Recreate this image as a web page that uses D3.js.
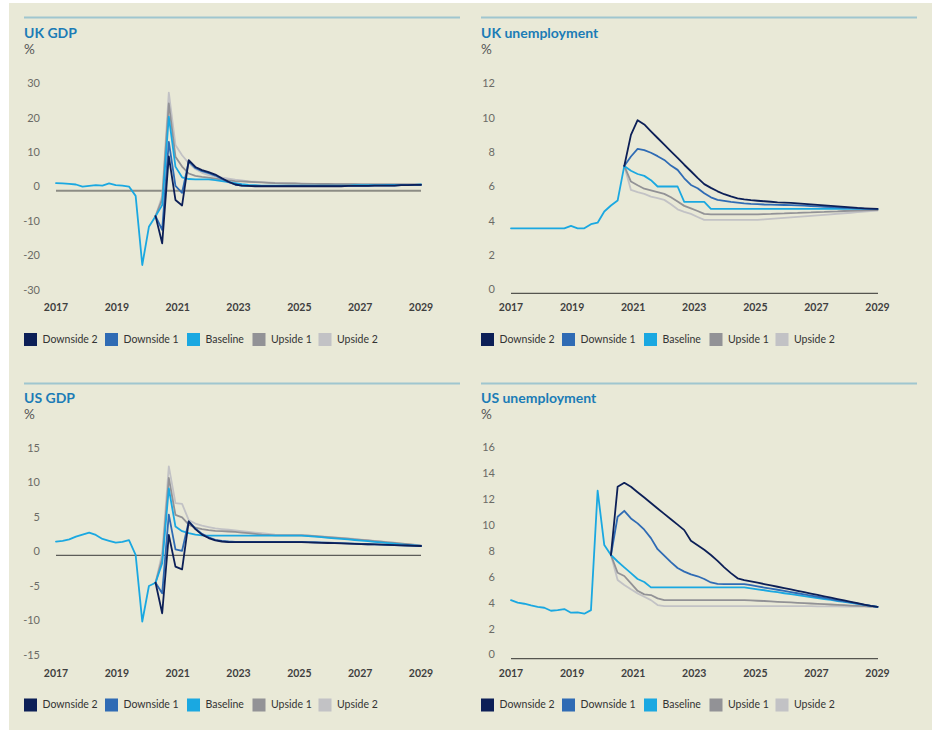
<!DOCTYPE html>
<html><head><meta charset="utf-8">
<script src="https://cdn.jsdelivr.net/npm/d3@7"></script>
<style>
body{margin:0;background:#ffffff;}
text{font-family:Lato,"Open Sans","Noto Sans",sans-serif;}
</style>
</head><body>
<svg id="chart" width="941" height="733"></svg>
<script>
// ---------------- DATA ----------------
const seriesNames  = ["Downside 2","Downside 1","Baseline","Upside 1","Upside 2"];
const seriesColors = ["#0c1f57","#2f6bb4","#1aa8e1","#929296","#c2c2c5"];
const yearTicks = [2017,2019,2021,2023,2025,2027,2029];
const pointCount = 56; // equally spaced points from 2017 to 2029

// UK GDP (%)
const ukGdpTicks = [30,20,10,0,-10,-20,-30];
const ukGdpBranch = 15;
const ukGdpBaseline = [2.2,2.1,2.0,1.8,1.2,1.4,1.6,1.5,2.1,1.6,1.5,1.2,-1.5,-21.6,-10.5,-7.4,-4.2,21.5,7.0,3.9,3.4,3.3,3.3,3.3,3.1,2.8,2.5,2.2,1.9,1.7,1.6,1.5,1.5,1.5,1.5,1.5,1.5,1.5,1.5,1.5,1.5,1.5,1.5,1.5,1.5,1.6,1.6,1.6,1.6,1.6,1.7,1.7,1.7,1.7,1.7,1.8];
const ukGdpDownside2 = [-7.4,-15.3,10.0,-2.7,-4.3,8.9,6.9,6.0,5.4,4.7,3.6,2.6,1.8,1.5,1.4,1.3,1.3,1.3,1.3,1.3,1.3,1.3,1.3,1.3,1.3,1.3,1.3,1.3,1.3,1.4,1.4,1.4,1.4,1.5,1.5,1.5,1.5,1.6,1.6,1.7,1.7];
const ukGdpDownside1 = [-7.4,-11.4,14.2,1.4,-0.6,8.5,6.6,5.7,5.1,4.4,3.4,2.5,1.8,1.5,1.4,1.35,1.35,1.35,1.35,1.35,1.35,1.35,1.35,1.35,1.35,1.35,1.35,1.35,1.35,1.4,1.4,1.4,1.4,1.5,1.5,1.5,1.5,1.6,1.6,1.7,1.7];
const ukGdpUpside1 = [-7.4,-2.5,25.4,9.9,7.0,5.0,4.3,4.0,3.8,3.5,3.2,3.0,2.8,2.7,2.6,2.5,2.4,2.3,2.2,2.15,2.1,2.1,2.0,2.0,2.0,1.95,1.95,1.9,1.9,1.9,1.9,1.85,1.85,1.85,1.85,1.8,1.8,1.8,1.8,1.8,1.8];
const ukGdpUpside2 = [-7.4,-1.5,28.5,13.3,10.3,8.0,6.3,5.2,4.5,4.1,3.8,3.5,3.2,3.0,2.7,2.6,2.5,2.4,2.3,2.25,2.2,2.15,2.1,2.05,2.0,2.0,2.0,2.0,1.95,1.95,1.9,1.9,1.9,1.85,1.85,1.85,1.8,1.8,1.8,1.8,1.8];

// UK unemployment (%)
const ukUnTicks = [12,10,8,6,4,2,0];
const ukUnBranch = 17;
const ukUnBaseline = [3.79,3.79,3.79,3.79,3.79,3.79,3.79,3.79,3.79,3.93,3.79,3.79,4.03,4.12,4.77,5.12,5.41,7.43,7.15,6.96,6.85,6.6,6.23,6.23,6.23,6.23,5.33,5.33,5.33,5.33,4.92,4.92,4.92,4.92,4.92,4.92,4.92,4.92,4.92,4.92,4.92,4.92,4.92,4.92,4.92,4.92,4.92,4.92,4.92,4.92,4.92,4.92,4.92,4.92,4.92,4.92];
const ukUnDownside2 = [7.43,9.24,10.1,9.85,9.45,9.06,8.67,8.28,7.9,7.5,7.12,6.73,6.37,6.15,5.95,5.78,5.65,5.54,5.48,5.43,5.4,5.37,5.34,5.31,5.29,5.27,5.25,5.22,5.19,5.16,5.13,5.1,5.07,5.04,5.01,4.98,4.96,4.94,4.92];
const ukUnDownside1 = [7.43,7.98,8.42,8.35,8.2,8.0,7.78,7.45,7.2,6.71,6.32,6.13,5.84,5.6,5.45,5.39,5.33,5.29,5.25,5.22,5.2,5.18,5.17,5.16,5.15,5.14,5.13,5.11,5.09,5.07,5.05,5.03,5.01,4.99,4.97,4.96,4.94,4.93,4.92];
const ukUnUpside1 = [7.43,6.52,6.3,6.1,6.0,5.9,5.8,5.6,5.35,5.1,4.95,4.8,4.63,4.61,4.61,4.61,4.61,4.61,4.61,4.61,4.61,4.62,4.63,4.65,4.66,4.68,4.69,4.71,4.72,4.74,4.75,4.77,4.78,4.8,4.81,4.83,4.84,4.85,4.86];
const ukUnUpside2 = [7.43,6.03,5.9,5.8,5.64,5.55,5.45,5.2,4.9,4.75,4.63,4.45,4.28,4.28,4.28,4.28,4.28,4.28,4.28,4.28,4.28,4.31,4.34,4.37,4.4,4.43,4.46,4.49,4.52,4.55,4.58,4.61,4.64,4.67,4.7,4.73,4.76,4.79,4.82];

// US GDP (%)
const usGdpTicks = [15,10,5,0,-5,-10,-15];
const usGdpBranch = 15;
const usGdpBaseline = [1.98,2.1,2.3,2.7,3.0,3.3,2.95,2.37,2.1,1.84,1.94,2.2,0.05,-9.6,-4.45,-3.97,-1.16,9.7,4.16,3.5,3.2,3.0,2.9,2.85,2.85,2.85,2.85,2.85,2.85,2.85,2.85,2.85,2.85,2.85,2.85,2.85,2.85,2.85,2.78,2.7,2.62,2.54,2.46,2.38,2.3,2.22,2.13,2.04,1.95,1.86,1.77,1.68,1.59,1.5,1.42,1.35];
const usGdpDownside2 = [-3.97,-8.4,2.95,-1.64,-2.03,4.9,3.8,3.0,2.5,2.15,2.0,1.9,1.9,1.9,1.9,1.9,1.9,1.9,1.9,1.9,1.9,1.9,1.9,1.87,1.84,1.81,1.78,1.75,1.72,1.69,1.66,1.63,1.6,1.57,1.54,1.51,1.48,1.45,1.42,1.38,1.35];
const usGdpDownside1 = [-3.97,-5.5,5.9,0.87,0.65,4.9,3.9,3.1,2.6,2.25,2.1,2.0,1.95,1.95,1.95,1.95,1.95,1.95,1.95,1.95,1.95,1.95,1.95,1.92,1.89,1.86,1.83,1.8,1.76,1.72,1.68,1.64,1.6,1.57,1.54,1.51,1.48,1.45,1.42,1.39,1.36];
const usGdpUpside1 = [-3.97,-0.5,11.2,5.85,5.5,4.45,4.0,3.8,3.65,3.55,3.5,3.45,3.4,3.3,3.2,3.1,3.0,2.95,2.9,2.9,2.9,2.9,2.9,2.84,2.77,2.7,2.63,2.56,2.48,2.4,2.32,2.24,2.15,2.06,1.97,1.88,1.79,1.7,1.6,1.5,1.4];
const usGdpUpside2 = [-3.97,0.3,12.9,7.55,7.45,5.1,4.6,4.3,4.1,3.9,3.8,3.7,3.6,3.5,3.4,3.3,3.2,3.1,3.0,2.95,2.95,2.95,2.95,2.88,2.81,2.74,2.67,2.6,2.52,2.44,2.36,2.28,2.19,2.1,2.01,1.92,1.83,1.73,1.63,1.53,1.42];

// US unemployment (%)
const usUnTicks = [16,14,12,10,8,6,4,2,0];
const usUnBranch = 15;
const usUnBaseline = [4.52,4.32,4.24,4.11,4.0,3.93,3.7,3.75,3.83,3.55,3.57,3.47,3.75,12.96,8.77,8.0,7.5,7.05,6.6,6.15,5.92,5.5,5.5,5.5,5.5,5.5,5.5,5.5,5.5,5.5,5.5,5.5,5.5,5.5,5.5,5.5,5.43,5.35,5.28,5.2,5.13,5.05,4.98,4.9,4.83,4.75,4.68,4.6,4.53,4.45,4.38,4.3,4.23,4.15,4.08,4.0];
const usUnDownside2 = [8.0,13.26,13.57,13.26,12.84,12.43,12.01,11.59,11.17,10.76,10.34,9.92,9.1,8.75,8.4,8.0,7.55,7.05,6.6,6.2,6.07,5.97,5.86,5.76,5.65,5.55,5.44,5.34,5.23,5.13,5.02,4.92,4.81,4.71,4.6,4.5,4.39,4.29,4.18,4.08,4.0];
const usUnDownside1 = [8.0,10.95,11.41,10.82,10.44,9.95,9.3,8.45,7.95,7.45,7.0,6.72,6.5,6.36,6.15,5.88,5.77,5.76,5.76,5.76,5.76,5.67,5.58,5.49,5.4,5.32,5.23,5.14,5.05,4.96,4.87,4.78,4.69,4.6,4.51,4.42,4.34,4.25,4.16,4.08,4.0];
const usUnUpside1 = [8.0,6.63,6.38,5.81,5.24,4.96,4.91,4.65,4.52,4.52,4.52,4.52,4.52,4.52,4.52,4.52,4.52,4.52,4.52,4.52,4.52,4.5,4.47,4.45,4.42,4.39,4.37,4.34,4.31,4.29,4.26,4.23,4.21,4.18,4.15,4.13,4.1,4.07,4.05,4.02,4.0];
const usUnUpside2 = [8.0,6.07,5.68,5.35,5.04,4.78,4.52,4.14,4.06,4.06,4.06,4.06,4.06,4.06,4.06,4.06,4.06,4.06,4.06,4.06,4.06,4.06,4.06,4.06,4.06,4.06,4.06,4.06,4.06,4.05,4.05,4.04,4.04,4.03,4.03,4.02,4.02,4.01,4.01,4.0,4.0];

// ---------------- LAYOUT ----------------
const panels = [
  {title:"UK GDP", left:24, right:460, x0:56, x1:421, top:0, domain:[-30,30], yr:[293.9,87.5], ticks:ukGdpTicks, zeroStyle:"gdpUK",
   branch:ukGdpBranch, base:ukGdpBaseline, others:[ukGdpDownside2,ukGdpDownside1,null,ukGdpUpside1,ukGdpUpside2]},
  {title:"UK unemployment", left:481, right:917, x0:511, x1:877.5, top:0, domain:[0,12], yr:[293.3,87.6], ticks:ukUnTicks, zeroStyle:"axis",
   branch:ukUnBranch, base:ukUnBaseline, others:[ukUnDownside2,ukUnDownside1,null,ukUnUpside1,ukUnUpside2]},
  {title:"US GDP", left:24, right:460, x0:56, x1:421, top:1, domain:[-15,15], yr:[658.8,451.8], ticks:usGdpTicks, zeroStyle:"gdpUS",
   branch:usGdpBranch, base:usGdpBaseline, others:[usGdpDownside2,usGdpDownside1,null,usGdpUpside1,usGdpUpside2]},
  {title:"US unemployment", left:481, right:917, x0:511, x1:877.5, top:1, domain:[0,16], yr:[658.7,451.3], ticks:usUnTicks, zeroStyle:"axis",
   branch:usUnBranch, base:usUnBaseline, others:[usUnDownside2,usUnDownside1,null,usUnUpside1,usUnUpside2]}
];
const rows = [
  {rule:17.5, title:34, pct:51, xlab:308.5, legend:339.5},
  {rule:383.5, title:399.5, pct:416, xlab:674.5, legend:705}
];
const legendOffsets = [0, 81, 163, 228.5, 294.5];

const svg = d3.select("#chart");
svg.append("rect").attr("x",9).attr("y",3).attr("width",923).attr("height",727).attr("fill","#e9e9d7");

const drawOrder = [4,3,2,1,0];

panels.forEach(p => {
  const r = rows[p.top];
  const g = svg.append("g");
  const xi = d3.scaleLinear().domain([0, pointCount-1]).range([p.x0, p.x1]);
  const xy = d3.scaleLinear().domain([2017, 2029]).range([p.x0, p.x1]);
  const y = d3.scaleLinear().domain(p.domain).range(p.yr);

  g.append("line").attr("x1",p.left).attr("x2",p.right).attr("y1",r.rule).attr("y2",r.rule)
    .attr("stroke","#9fc6cf").attr("stroke-width",2);
  g.append("text").attr("x",p.left).attr("y",r.title).attr("dominant-baseline","middle")
    .attr("font-size",14).attr("font-weight",700).attr("fill","#1b7cb6").text(p.title);
  g.append("text").attr("x",p.left).attr("y",r.pct).attr("dominant-baseline","middle")
    .attr("font-size",13.5).attr("fill","#555").text("%");

  // y tick labels
  g.selectAll(".yt").data(p.ticks).enter().append("text")
    .attr("x", p.x0 - 16).attr("y", d => y(d) - 3).attr("text-anchor","end").attr("dominant-baseline","middle")
    .attr("font-size",11).attr("fill","#6b6b66").text(d => d);

  // x tick labels
  g.selectAll(".xt").data(yearTicks).enter().append("text")
    .attr("x", d => xy(d)).attr("y", r.xlab).attr("text-anchor","middle").attr("dominant-baseline","middle")
    .attr("font-size",10.5).attr("font-weight",700).attr("fill","#3f3f3f").text(d => d);

  // zero / axis line
  const zl = g.append("line").attr("x1",p.x0).attr("x2",p.x1 + (p.zeroStyle==="axis"?0.5:0)).attr("y1",y(0)).attr("y2",y(0));
  if (p.zeroStyle==="gdpUK") zl.attr("stroke","#8c8c85").attr("stroke-width",2);
  else if (p.zeroStyle==="gdpUS") zl.attr("stroke","#3a3a3a").attr("stroke-width",1);
  else zl.attr("stroke","#55554f").attr("stroke-width",1.2);

  const line = d3.line().x(d => xi(d[0])).y(d => y(d[1])).curve(d3.curveLinear);
  drawOrder.forEach(si => {
    let pts;
    if (si === 2) pts = p.base.map((v,i) => [i, v]);
    else pts = p.others[si].map((v,i) => [i + p.branch, v]);
    g.append("path").attr("d", line(pts)).attr("fill","none")
      .attr("stroke", seriesColors[si]).attr("stroke-width",1.8)
      .attr("stroke-linejoin","round").attr("stroke-linecap","round");
  });

  // legend
  const lg = g.append("g");
  seriesNames.forEach((name, si) => {
    const lx = p.left + legendOffsets[si];
    lg.append("rect").attr("x", lx).attr("y", r.legend - 6.5).attr("width",13).attr("height",13).attr("fill", seriesColors[si]);
    lg.append("text").attr("x", lx + 18.5).attr("y", r.legend + 0.5).attr("dominant-baseline","middle")
      .attr("font-size",10.5).attr("fill","#333").text(name);
  });
});
</script>
</body></html>
